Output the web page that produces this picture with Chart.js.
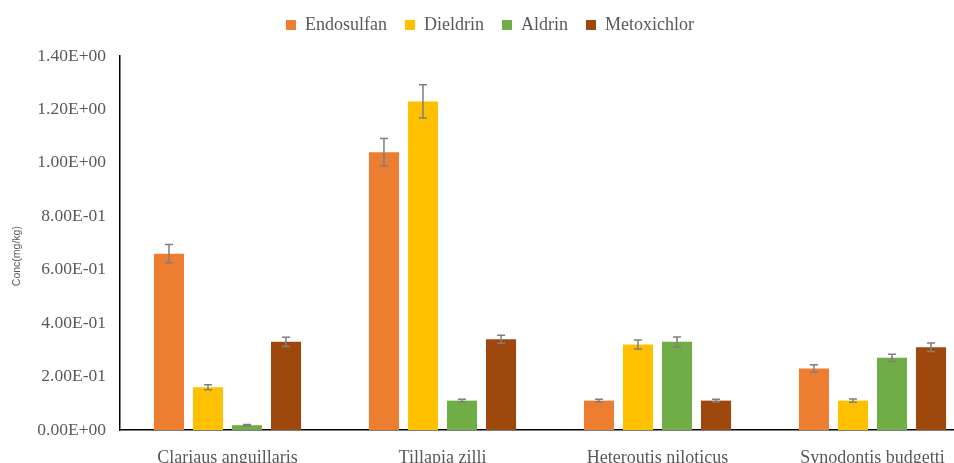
<!DOCTYPE html>
<html>
<head>
<meta charset="utf-8">
<script src="https://cdn.jsdelivr.net/npm/chart.js@4.4.1/dist/chart.umd.min.js"></script>
<style>
  html, body { margin: 0; padding: 0; background: #ffffff; overflow: hidden; }
  #wrap { position: relative; width: 985px; height: 470px; }
</style>
</head>
<body>
<div id="wrap"><canvas id="chart"></canvas></div>
<script>
// Pesticide concentrations per fish species (mg/kg), with standard errors
const categories = ['Clariaus anguillaris', 'Tillapia zilli', 'Heteroutis niloticus', 'Synodontis budgetti'];
const seriesNames = ['Endosulfan', 'Dieldrin', 'Aldrin', 'Metoxichlor'];

const endosulfan = [0.66, 1.04, 0.11, 0.23];
const dieldrin = [0.16, 1.23, 0.32, 0.11];
const aldrin = [0.018, 0.11, 0.33, 0.27];
const metoxichlor = [0.33, 0.34, 0.11, 0.31];

const endosulfanErr = [0.034, 0.051, 0.005, 0.014];
const dieldrinErr = [0.009, 0.062, 0.017, 0.006];
const aldrinErr = [0.003, 0.005, 0.018, 0.014];
const metoxichlorErr = [0.017, 0.015, 0.005, 0.016];

const yTicks = [0, 0.2, 0.4, 0.6, 0.8, 1.0, 1.2, 1.4];
const yTitle = 'Conc(mg/kg)';

const colors = ['#ED7D31', '#FFC000', '#70AD47', '#9E480E'];
const values = [endosulfan, dieldrin, aldrin, metoxichlor];
const errors = [endosulfanErr, dieldrinErr, aldrinErr, metoxichlorErr];

function sci(v) {
  if (v === 0) return '0.00E+00';
  const e = Math.floor(Math.log10(Math.abs(v)) + 1e-9);
  const m = v / Math.pow(10, e);
  const sign = e < 0 ? '-' : '+';
  const ae = Math.abs(e);
  return m.toFixed(2) + 'E' + sign + (ae < 10 ? '0' + ae : ae);
}

const TEXT = '#595959';
const SERIF = "'Liberation Serif', 'Times New Roman', serif";
const SANS = "'Liberation Sans', Arial, sans-serif";

// Extra room between legend and plot area
const legendGap = {
  id: 'legendGap',
  beforeUpdate(chart) {
    const lg = chart.legend;
    if (lg && !lg._gapWrapped) {
      const fit = lg.fit;
      lg.fit = function () { fit.call(this); this.height += 12; };
      lg._gapWrapped = true;
    }
  }
};

// Rotated axis title, drawn a little below the plot's middle
const axisTitle = {
  id: 'axisTitle',
  afterDraw(chart) {
    const { ctx, chartArea } = chart;
    ctx.save();
    ctx.fillStyle = TEXT;
    ctx.font = '10.5px ' + SANS;
    ctx.textAlign = 'center';
    ctx.textBaseline = 'middle';
    ctx.translate(17, chartArea.top + (chartArea.bottom - chartArea.top) * 0.535);
    ctx.rotate(-Math.PI / 2);
    ctx.fillText(yTitle, 0, 0);
    ctx.restore();
  }
};

const errorBars = {
  id: 'errorBars',
  afterDatasetsDraw(chart) {
    const ctx = chart.ctx;
    const yScale = chart.scales.y;
    ctx.save();
    ctx.strokeStyle = '#7F7F7F';
    ctx.lineWidth = 1.5;
    chart.data.datasets.forEach((ds, i) => {
      const meta = chart.getDatasetMeta(i);
      meta.data.forEach((bar, j) => {
        const v = ds.data[j];
        const e = ds.errors[j];
        const x = bar.x;
        const yHi = yScale.getPixelForValue(v + e);
        const yLo = yScale.getPixelForValue(Math.max(0, v - e));
        const cap = 4;
        ctx.beginPath();
        ctx.moveTo(x, yHi); ctx.lineTo(x, yLo);
        ctx.moveTo(x - cap, yHi); ctx.lineTo(x + cap, yHi);
        ctx.moveTo(x - cap, yLo); ctx.lineTo(x + cap, yLo);
        ctx.stroke();
      });
    });
    ctx.restore();
  }
};

new Chart(document.getElementById('chart'), {
  type: 'bar',
  data: {
    labels: categories,
    datasets: seriesNames.map((name, i) => ({
      label: name,
      data: values[i],
      errors: errors[i],
      backgroundColor: colors[i],
      borderWidth: 0,
      categoryPercentage: 0.726,
      barPercentage: 0.77
    }))
  },
  options: {
    responsive: true,
    maintainAspectRatio: false,
    animation: false,
    layout: { padding: { top: -2, right: 5, left: 0, bottom: 0 } },
    plugins: {
      legend: {
        position: 'top',
        labels: {
          boxWidth: 10,
          boxHeight: 10,
          padding: 18,
          color: TEXT,
          font: { family: SERIF, size: 18 }
        }
      },
      tooltip: { enabled: false }
    },
    scales: {
      x: {
        grid: { display: false, drawTicks: false },
        border: { color: '#000000', width: 1.5 },
        ticks: { color: TEXT, padding: 17, font: { family: SERIF, size: 18 } },
        afterFit(scale) { scale.height = 40; }
      },
      y: {
        min: 0,
        max: 1.4,
        afterBuildTicks(scale) { scale.ticks = yTicks.map(v => ({ value: v })); },
        grid: { display: false, drawTicks: false },
        border: { color: '#000000', width: 1.5 },
        ticks: {
          color: TEXT,
          padding: 14,
          font: { family: SERIF, size: 17.5 },
          callback: (v) => sci(Math.round(v * 100) / 100)
        },
        afterFit(scale) { scale.width = 120; }
      }
    }
  },
  plugins: [legendGap, axisTitle, errorBars]
});
</script>
</body>
</html>
